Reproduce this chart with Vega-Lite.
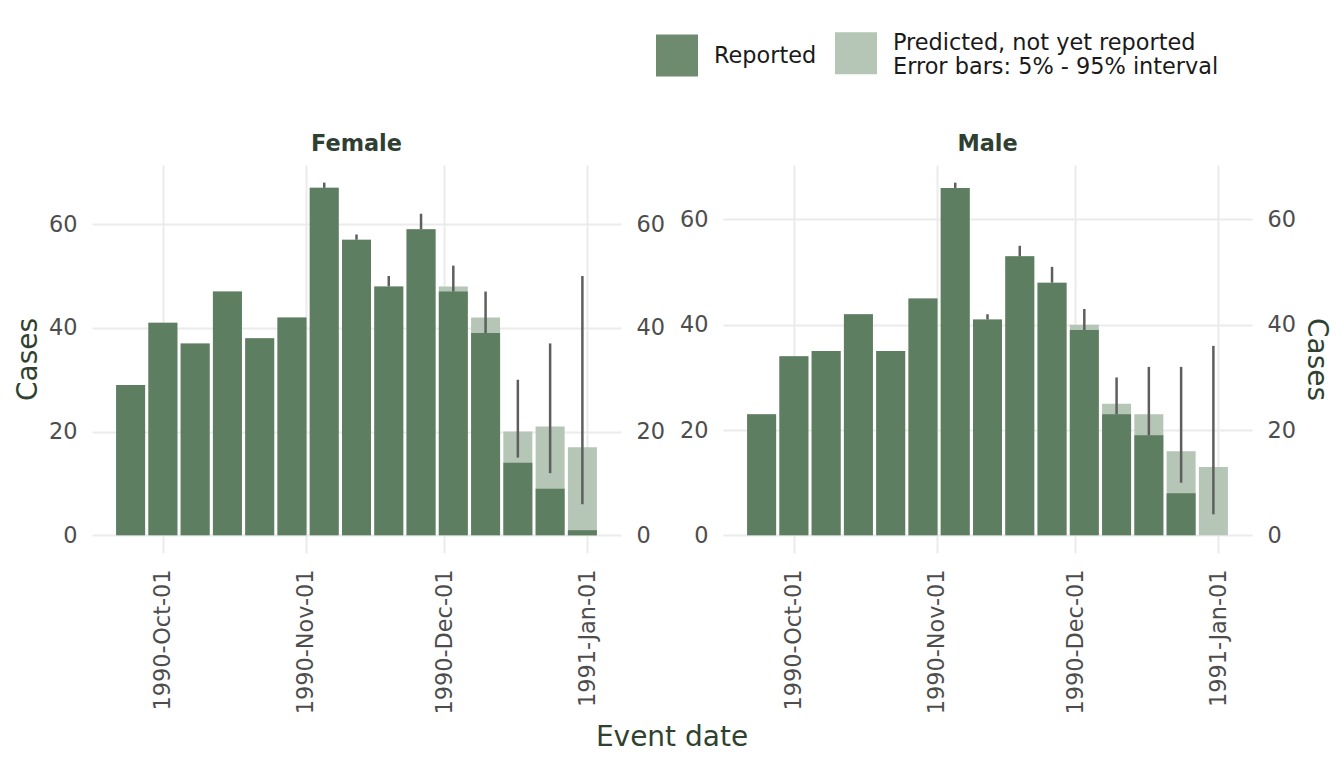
{
  "$schema": "https://vega.github.io/schema/vega-lite/v6.json",
  "padding": {"left": 14, "top": 32, "right": 8, "bottom": 10},
  "background": "white",
  "data": {"values": [
    {"sex": "Female", "date": "1990-09-24T00:00", "reported": 29, "predicted": 29, "lower": null, "upper": null},
    {"sex": "Female", "date": "1990-10-01T00:00", "reported": 41, "predicted": 41, "lower": null, "upper": null},
    {"sex": "Female", "date": "1990-10-08T00:00", "reported": 37, "predicted": 37, "lower": null, "upper": null},
    {"sex": "Female", "date": "1990-10-15T00:00", "reported": 47, "predicted": 47, "lower": null, "upper": null},
    {"sex": "Female", "date": "1990-10-22T00:00", "reported": 38, "predicted": 38, "lower": null, "upper": null},
    {"sex": "Female", "date": "1990-10-29T00:00", "reported": 42, "predicted": 42, "lower": null, "upper": null},
    {"sex": "Female", "date": "1990-11-05T00:00", "reported": 67, "predicted": 67, "lower": 67, "upper": 68},
    {"sex": "Female", "date": "1990-11-12T00:00", "reported": 57, "predicted": 57, "lower": 57, "upper": 58},
    {"sex": "Female", "date": "1990-11-19T00:00", "reported": 48, "predicted": 48, "lower": 48, "upper": 50},
    {"sex": "Female", "date": "1990-11-26T00:00", "reported": 59, "predicted": 59, "lower": 59, "upper": 62},
    {"sex": "Female", "date": "1990-12-03T00:00", "reported": 47, "predicted": 48, "lower": 47, "upper": 52},
    {"sex": "Female", "date": "1990-12-10T00:00", "reported": 39, "predicted": 42, "lower": 39, "upper": 47},
    {"sex": "Female", "date": "1990-12-17T00:00", "reported": 14, "predicted": 20, "lower": 15, "upper": 30},
    {"sex": "Female", "date": "1990-12-24T00:00", "reported": 9, "predicted": 21, "lower": 12, "upper": 37},
    {"sex": "Female", "date": "1990-12-31T00:00", "reported": 1, "predicted": 17, "lower": 6, "upper": 50},
    {"sex": "Male", "date": "1990-09-24T00:00", "reported": 23, "predicted": 23, "lower": null, "upper": null},
    {"sex": "Male", "date": "1990-10-01T00:00", "reported": 34, "predicted": 34, "lower": null, "upper": null},
    {"sex": "Male", "date": "1990-10-08T00:00", "reported": 35, "predicted": 35, "lower": null, "upper": null},
    {"sex": "Male", "date": "1990-10-15T00:00", "reported": 42, "predicted": 42, "lower": null, "upper": null},
    {"sex": "Male", "date": "1990-10-22T00:00", "reported": 35, "predicted": 35, "lower": null, "upper": null},
    {"sex": "Male", "date": "1990-10-29T00:00", "reported": 45, "predicted": 45, "lower": null, "upper": null},
    {"sex": "Male", "date": "1990-11-05T00:00", "reported": 66, "predicted": 66, "lower": 66, "upper": 67},
    {"sex": "Male", "date": "1990-11-12T00:00", "reported": 41, "predicted": 41, "lower": 41, "upper": 42},
    {"sex": "Male", "date": "1990-11-19T00:00", "reported": 53, "predicted": 53, "lower": 53, "upper": 55},
    {"sex": "Male", "date": "1990-11-26T00:00", "reported": 48, "predicted": 48, "lower": 48, "upper": 51},
    {"sex": "Male", "date": "1990-12-03T00:00", "reported": 39, "predicted": 40, "lower": 39, "upper": 43},
    {"sex": "Male", "date": "1990-12-10T00:00", "reported": 23, "predicted": 25, "lower": 23, "upper": 30},
    {"sex": "Male", "date": "1990-12-17T00:00", "reported": 19, "predicted": 23, "lower": 19, "upper": 32},
    {"sex": "Male", "date": "1990-12-24T00:00", "reported": 8, "predicted": 16, "lower": 10, "upper": 32},
    {"sex": "Male", "date": "1990-12-31T00:00", "reported": 0, "predicted": 13, "lower": 4, "upper": 36}
  ]},
  "title": {"text": "Event date", "orient": "bottom", "anchor": "middle", "fontSize": 28, "fontWeight": "normal", "color": "#2f4230", "offset": 10},
  "hconcat": [
    {
      "width": 529, "height": 388,
      "title": {"text": "Female", "fontSize": 22.4, "fontWeight": "bold", "color": "#2f3f32", "anchor": "middle", "offset": 10},
      "transform": [{"filter": "datum.sex == 'Female'"}],
      "encoding": {
        "x": {"field": "date", "type": "temporal",
              "scale": {"domain": [{"year": 1990, "month": 9, "date": 15, "hours": 15}, {"year": 1991, "month": 1, "date": 8, "hours": 9}], "nice": false, "padding": 0},
              "axis": {"title": null, "values": [{"year": 1990, "month": 10, "date": 1}, {"year": 1990, "month": 11, "date": 1}, {"year": 1990, "month": 12, "date": 1}, {"year": 1991, "month": 1, "date": 1}], "format": "%Y-%b-%d", "labelAngle": 270, "labelPadding": 16}}
      },
      "layer": [
        {"mark": {"type": "bar", "width": 29, "opacity": 1},
         "encoding": {
           "y": {"field": "predicted", "type": "quantitative", "scale": {"domain": [-3.4, 71.4], "nice": false, "zero": false},
                 "axis": {"orient": "left", "title": "Cases", "values": [0, 20, 40, 60], "titlePadding": 6}},
           "color": {"datum": "Predicted", "type": "nominal",
                     "scale": {"domain": ["Reported", "Predicted"], "range": ["#6e8b70", "#b5c5b6"]},
                     "legend": {
                       "labelExpr": "datum.value == 'Predicted' ? ['Predicted, not yet reported', 'Error bars: 5% - 95% interval'] : datum.label",
                       "encode": {
                         "labels": {"update": {"lineHeight": {"value": 24}, "dy": {"signal": "datum.value == 'Predicted' ? -10 : 0"}}}
                       }
                     }}
         }},
        {"mark": {"type": "bar", "width": 29, "opacity": 1, "color": "#5e7e61"},
         "encoding": {
           "y": {"field": "reported", "type": "quantitative", "axis": {"orient": "right", "title": null, "values": [0, 20, 40, 60]}}
         }},
        {"mark": {"type": "rule", "color": "#5e5e5e", "strokeWidth": 2.5},
         "encoding": {
           "y": {"field": "lower", "type": "quantitative", "axis": null},
           "y2": {"field": "upper"}
         }}
      ],
      "resolve": {"axis": {"y": "independent"}}
    },
    {
      "width": 529, "height": 388,
      "title": {"text": "Male", "fontSize": 22.4, "fontWeight": "bold", "color": "#2f3f32", "anchor": "middle", "offset": 10},
      "transform": [{"filter": "datum.sex == 'Male'"}],
      "encoding": {
        "x": {"field": "date", "type": "temporal",
              "scale": {"domain": [{"year": 1990, "month": 9, "date": 15, "hours": 15}, {"year": 1991, "month": 1, "date": 8, "hours": 9}], "nice": false, "padding": 0},
              "axis": {"title": null, "values": [{"year": 1990, "month": 10, "date": 1}, {"year": 1990, "month": 11, "date": 1}, {"year": 1990, "month": 12, "date": 1}, {"year": 1991, "month": 1, "date": 1}], "format": "%Y-%b-%d", "labelAngle": 270, "labelPadding": 16}}
      },
      "layer": [
        {"mark": {"type": "bar", "width": 29, "opacity": 1},
         "encoding": {
           "y": {"field": "predicted", "type": "quantitative", "scale": {"domain": [-3.35, 70.35], "nice": false, "zero": false},
                 "axis": {"orient": "left", "title": null, "values": [0, 20, 40, 60]}},
           "color": {"datum": "Predicted", "type": "nominal"}
         }},
        {"mark": {"type": "bar", "width": 29, "opacity": 1, "color": "#5e7e61"},
         "encoding": {
           "y": {"field": "reported", "type": "quantitative", "axis": {"orient": "right", "title": "Cases", "values": [0, 20, 40, 60], "titlePadding": 6}}
         }},
        {"mark": {"type": "rule", "color": "#5e5e5e", "strokeWidth": 2.5},
         "encoding": {
           "y": {"field": "lower", "type": "quantitative", "axis": null},
           "y2": {"field": "upper"}
         }}
      ],
      "resolve": {"axis": {"y": "independent"}}
    }
  ],
  "spacing": 14,
  "resolve": {"scale": {"color": "shared", "x": "independent", "y": "independent"}, "legend": {"color": "shared"}},
  "config": {
    "font": "DejaVu Sans",
    "view": {"stroke": null},
    "axis": {"grid": true, "gridColor": "#ebebeb", "gridWidth": 2, "ticks": false, "tickSize": 0, "domain": false,
             "labelColor": "#4d4d4d", "labelFontSize": 22.4, "labelPadding": 15,
             "titleFontSize": 28, "titleFontWeight": "normal", "titleColor": "#2f4230"},
    "legend": {
      "orient": "none", "legendX": 564, "legendY": -133, "direction": "horizontal", "title": null,
      "symbolType": "square", "symbolSize": 1764, "symbolStrokeWidth": 0, "symbolOpacity": 1,
      "labelFontSize": 22.4, "labelColor": "#1a1a1a", "labelOffset": 16, "columnPadding": 18, "labelLimit": 500
    }
  }
}
